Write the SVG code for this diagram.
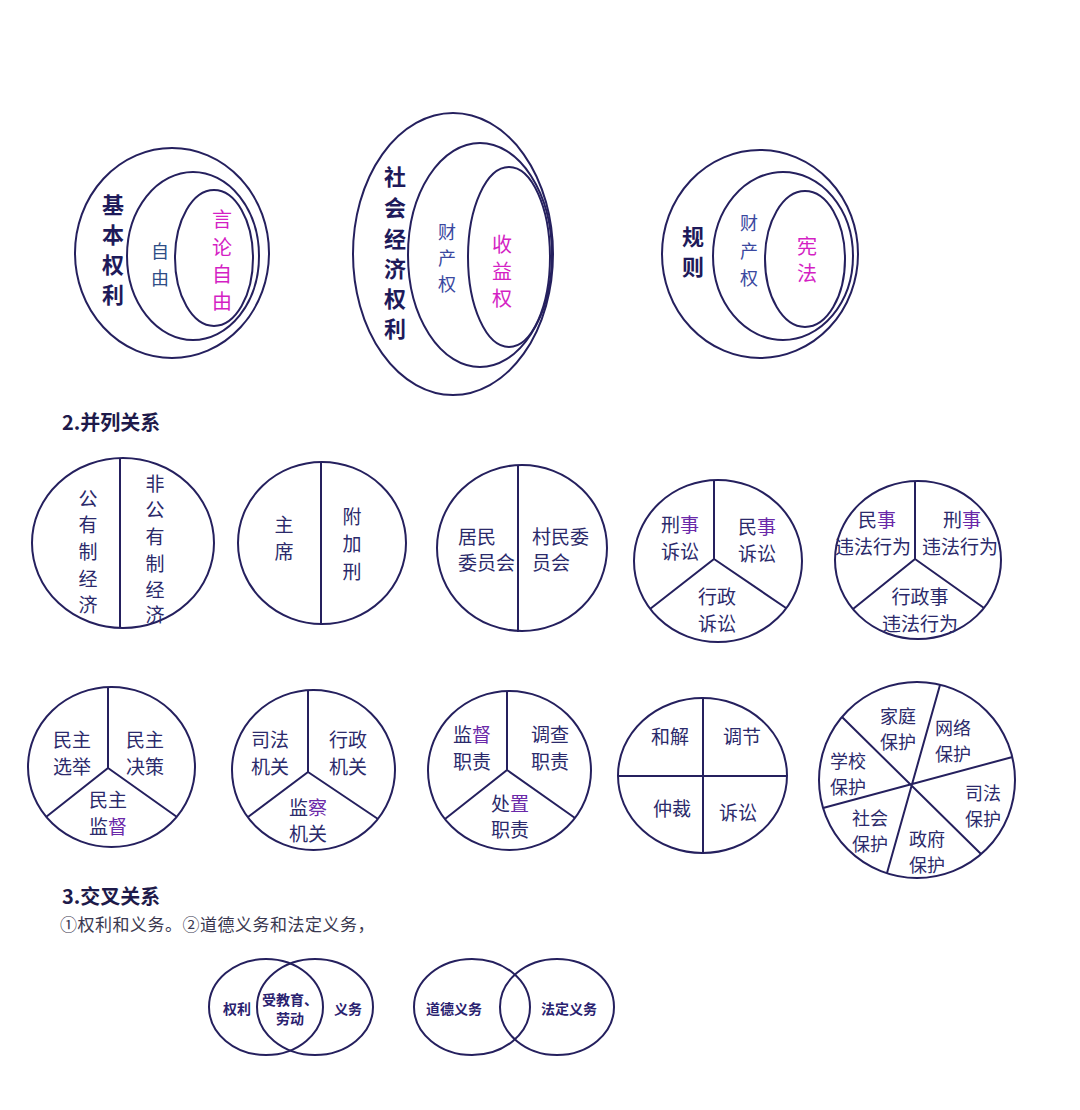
<svg xmlns="http://www.w3.org/2000/svg" width="1080" height="1110" viewBox="0 0 1080 1110">
<style>
.ln{fill:none;stroke:#25205e;stroke-width:2}
.t{font-family:"Noto Sans CJK SC","Noto Sans",sans-serif;font-size:19px;fill:#2b2a6b;text-anchor:middle;dominant-baseline:central}
.s{text-anchor:start}
.bd{font-weight:bold;fill:#1e1a5a;font-size:22px}
.bl{fill:#2e4d86;font-size:18px}
.bl2{fill:#3a48a0;font-size:18px}
.mg{fill:#d41fc4;font-size:20px}
.pu{fill:#6a28a8}
.sm{font-size:18px}
.h{font-family:"Noto Sans CJK SC","Noto Sans",sans-serif;font-size:20px;font-weight:bold;fill:#1e1a4a;dominant-baseline:central}
.sub{font-family:"Noto Sans CJK SC",sans-serif;font-size:17px;fill:#3a3850;dominant-baseline:central;letter-spacing:0.5px}
.v{font-size:14px;font-weight:bold;fill:#2a2270}
</style>
<rect width="1080" height="1110" fill="#ffffff"/>

<g id="connectors">
  <path class="ln" d="M120 459 V628"/>
  <path class="ln" d="M321 462 V625"/>
  <path class="ln" d="M518 465 V632"/>
  <path class="ln" d="M714 480 V559 L650 609 M714 559 L786 608"/>
  <path class="ln" d="M915 481 V559 L853 609 M915 559 L984 608"/>
  <path class="ln" d="M108 687 V768 L46 817 M108 768 L177 817"/>
  <path class="ln" d="M308 690 V772 L248 817 M308 772 L378 819"/>
  <path class="ln" d="M507 691 V770 L445 819 M507 770 L575 818"/>
  <path class="ln" d="M703 698 V853 M618 776 H787"/>
  <path class="ln" d="M842 717 L981 854 M940 685 L887 873 M1012.5 757 L823 808"/>
</g>

<g id="basic-rights">
  <ellipse class="ln" cx="172" cy="253" rx="97" ry="105"/>
  <ellipse class="ln" cx="193" cy="256" rx="66" ry="84"/>
  <ellipse class="ln" cx="214" cy="258" rx="39" ry="68"/>
  <text class="t bd"><tspan x="113" y="203">基</tspan><tspan x="113" y="233">本</tspan><tspan x="113" y="263">权</tspan><tspan x="113" y="293">利</tspan></text>
  <text class="t bl"><tspan x="160" y="250">自</tspan><tspan x="160" y="277">由</tspan></text>
  <text class="t mg"><tspan x="222" y="218">言</tspan><tspan x="222" y="246">论</tspan><tspan x="222" y="273">自</tspan><tspan x="222" y="300">由</tspan></text>
</g>

<g id="socio-economic-rights">
  <ellipse class="ln" cx="453" cy="254" rx="100" ry="141"/>
  <ellipse class="ln" cx="480" cy="255" rx="72" ry="112"/>
  <ellipse class="ln" cx="509" cy="257" rx="41" ry="90"/>
  <text class="t bd"><tspan x="395" y="175">社</tspan><tspan x="395" y="206">会</tspan><tspan x="395" y="237">经</tspan><tspan x="395" y="267">济</tspan><tspan x="395" y="297">权</tspan><tspan x="395" y="327">利</tspan></text>
  <text class="t bl2"><tspan x="447" y="231">财</tspan><tspan x="447" y="257">产</tspan><tspan x="447" y="283">权</tspan></text>
  <text class="t mg"><tspan x="502" y="243">收</tspan><tspan x="502" y="270">益</tspan><tspan x="502" y="297">权</tspan></text>
</g>

<g id="rules">
  <ellipse class="ln" cx="760" cy="254" rx="98" ry="104"/>
  <ellipse class="ln" cx="783" cy="256" rx="70" ry="84"/>
  <ellipse class="ln" cx="805" cy="259" rx="40" ry="68"/>
  <text class="t bd"><tspan x="693" y="235">规</tspan><tspan x="693" y="265">则</tspan></text>
  <text class="t bl2"><tspan x="749" y="222">财</tspan><tspan x="749" y="250">产</tspan><tspan x="749" y="277">权</tspan></text>
  <text class="t mg"><tspan x="807" y="245">宪</tspan><tspan x="807" y="272">法</tspan></text>
</g>

<text id="heading-2" class="h" x="62" y="421">2.并列关系</text>

<g id="ownership">
  <ellipse class="ln" cx="123" cy="543" rx="91" ry="85"/>
  <text class="t"><tspan x="88" y="497">公</tspan><tspan x="88" y="523">有</tspan><tspan x="88" y="550">制</tspan><tspan x="88" y="577">经</tspan><tspan x="88" y="603">济</tspan></text>
  <text class="t"><tspan x="155" y="482">非</tspan><tspan x="155" y="508">公</tspan><tspan x="155" y="535">有</tspan><tspan x="155" y="562">制</tspan><tspan x="155" y="588">经</tspan><tspan x="155" y="613">济</tspan></text>
</g>

<g id="punishment">
  <ellipse class="ln" cx="322" cy="543" rx="84" ry="81"/>
  <text class="t"><tspan x="284" y="523">主</tspan><tspan x="284" y="550">席</tspan></text>
  <text class="t"><tspan x="352" y="515">附</tspan><tspan x="352" y="542">加</tspan><tspan x="352" y="570">刑</tspan></text>
</g>

<g id="committees">
  <ellipse class="ln" cx="522" cy="548" rx="85" ry="83"/>
  <text class="t s" x="458" y="535">居民</text>
  <text class="t s" x="458" y="561">委员会</text>
  <text class="t s" x="532" y="535">村民委</text>
  <text class="t s" x="532" y="561">员会</text>
</g>

<g id="litigation">
  <ellipse class="ln" cx="718" cy="561" rx="84" ry="81"/>
  <text class="t" x="680" y="523">刑<tspan class="pu">事</tspan></text>
  <text class="t" x="680" y="550">诉讼</text>
  <text class="t" x="757" y="525">民<tspan class="pu">事</tspan></text>
  <text class="t" x="757" y="552">诉讼</text>
  <text class="t" x="717" y="595">行政</text>
  <text class="t" x="717" y="622">诉讼</text>
</g>

<g id="illegal-acts">
  <ellipse class="ln" cx="918" cy="560" rx="83" ry="79"/>
  <text class="t" x="877" y="518">民<tspan class="pu">事</tspan></text>
  <text class="t" x="873" y="545">违法行为</text>
  <text class="t" x="962" y="518">刑<tspan class="pu">事</tspan></text>
  <text class="t" x="960" y="545">违法行为</text>
  <text class="t" x="920" y="595">行政事</text>
  <text class="t" x="920" y="622">违法行为</text>
</g>

<g id="democracy">
  <ellipse class="ln" cx="111.5" cy="767" rx="83.5" ry="80"/>
  <text class="t" x="72" y="738">民主</text>
  <text class="t" x="72" y="765">选举</text>
  <text class="t" x="145" y="738">民主</text>
  <text class="t" x="145" y="765">决策</text>
  <text class="t" x="108" y="798">民主</text>
  <text class="t" x="108" y="825">监<tspan class="pu">督</tspan></text>
</g>

<g id="organs">
  <ellipse class="ln" cx="313.5" cy="770" rx="81.5" ry="80"/>
  <text class="t" x="270" y="738">司法</text>
  <text class="t" x="270" y="765">机关</text>
  <text class="t" x="348" y="738">行政</text>
  <text class="t" x="348" y="765">机关</text>
  <text class="t" x="308" y="806">监<tspan class="pu">察</tspan></text>
  <text class="t" x="308" y="832">机关</text>
</g>

<g id="duties">
  <ellipse class="ln" cx="509.5" cy="770.5" rx="81.5" ry="79.5"/>
  <text class="t" x="472" y="733">监<tspan class="pu">督</tspan></text>
  <text class="t" x="472" y="760">职责</text>
  <text class="t" x="550" y="733">调查</text>
  <text class="t" x="550" y="760">职责</text>
  <text class="t" x="510" y="802">处<tspan class="pu">置</tspan></text>
  <text class="t" x="510" y="828">职责</text>
</g>

<g id="dispute">
  <ellipse class="ln" cx="702.5" cy="775.5" rx="84.5" ry="77.5"/>
  <text class="t" x="670" y="735">和解</text>
  <text class="t" x="742" y="735">调节</text>
  <text class="t" x="672" y="807">仲裁</text>
  <text class="t" x="738" y="811">诉讼</text>
</g>

<g id="protection">
  <circle class="ln" cx="917" cy="780" r="98"/>
  <text class="t sm" x="898" y="715">家庭</text>
  <text class="t sm" x="898" y="741">保护</text>
  <text class="t sm" x="953" y="727">网络</text>
  <text class="t sm" x="953" y="753">保护</text>
  <text class="t sm" x="848" y="760">学校</text>
  <text class="t sm" x="848" y="786">保护</text>
  <text class="t sm" x="983" y="792">司法</text>
  <text class="t sm" x="983" y="818">保护</text>
  <text class="t sm" x="870" y="817">社会</text>
  <text class="t sm" x="870" y="843">保护</text>
  <text class="t sm" x="927" y="838">政府</text>
  <text class="t sm" x="927" y="864">保护</text>
</g>

<text id="heading-3" class="h" x="62" y="895">3.交叉关系</text>
<text id="subtitle" class="sub" x="60" y="923">①权利和义务。②道德义务和法定义务，</text>

<g id="rights-duties">
  <ellipse class="ln" cx="266" cy="1007" rx="57" ry="48"/>
  <ellipse class="ln" cx="315" cy="1007" rx="58" ry="48"/>
  <text class="t v" x="237" y="1008">权利</text>
  <text class="t v" x="290" y="999">受教育、</text>
  <text class="t v" x="290" y="1018">劳动</text>
  <text class="t v" x="348" y="1008">义务</text>
</g>

<g id="moral-legal">
  <ellipse class="ln" cx="472" cy="1007" rx="58" ry="48"/>
  <ellipse class="ln" cx="557" cy="1007" rx="57" ry="48"/>
  <text class="t v" x="454" y="1008">道德义务</text>
  <text class="t v" x="569" y="1008">法定义务</text>
</g>
</svg>
